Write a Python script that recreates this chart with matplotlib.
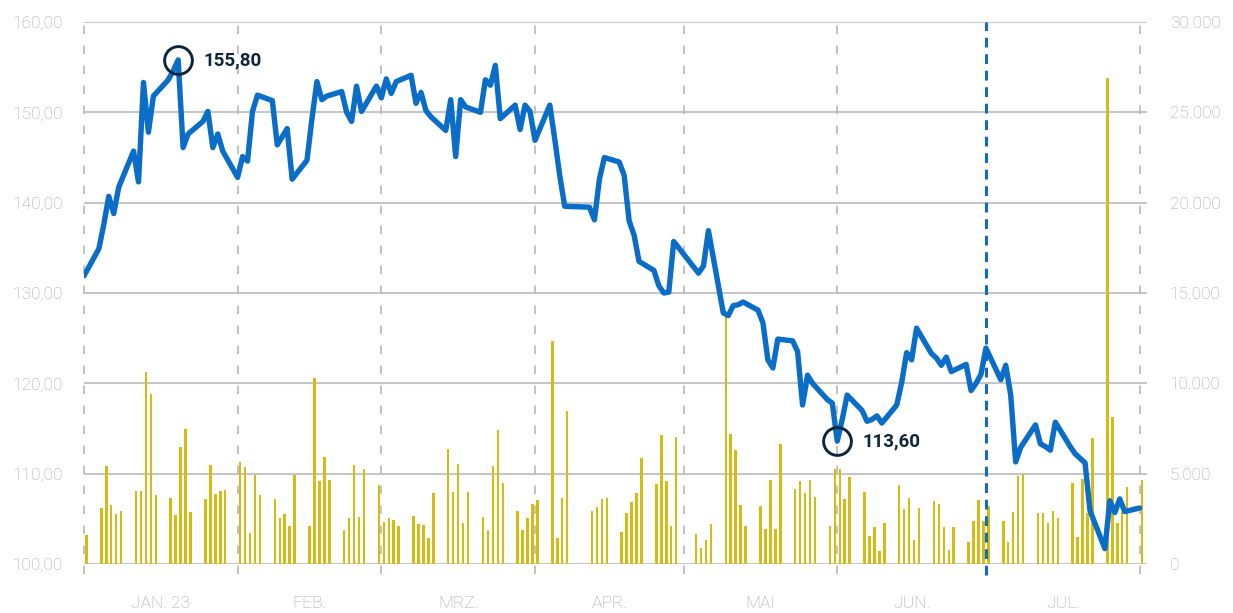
import matplotlib
matplotlib.use("Agg")
import matplotlib.pyplot as plt
import matplotlib.ticker as mticker
import pandas as pd

plt.rcParams["font.family"] = ["Roboto", "DejaVu Sans"]

# trading days (Xetra), Dec 30 2022 - Jul 31 2023
holidays = ["2023-04-07", "2023-04-10", "2023-05-01"]
days = pd.bdate_range("2022-12-30", "2023-07-31").drop(pd.to_datetime(holidays))

# closing price (EUR), one row per week
price = [
    131.9,
    134.9, 137.6, 140.7, 138.8, 141.7,
    145.7, 142.3, 153.3, 147.8, 151.8,
    153.6, 154.6, 155.8, 146.1, 147.6,
    149.0, 150.1, 146.1, 147.6, 145.7,
    142.8, 145.1, 144.6, 150.1, 151.9,
    151.3, 146.4, 147.3, 148.2, 142.6,
    144.7, 149.3, 153.4, 151.4, 151.8,
    152.3, 150.0, 149.0, 152.9, 150.1,
    152.9, 151.6, 153.7, 152.1, 153.4,
    154.1, 151.0, 152.2, 150.2, 149.5,
    148.0, 151.4, 145.1, 151.4, 150.6,
    150.0, 153.6, 153.0, 155.2, 149.3,
    150.8, 148.1, 150.8, 150.1, 146.9,
    150.8, 147.0, 143.0, 139.6,
    139.5, 138.1, 142.6, 145.0,
    144.5, 143.0, 138.0, 136.4, 133.5,
    132.5, 130.8, 130.0, 130.1, 135.7,
    132.9, 132.2, 133.0, 136.9,
    127.8, 127.5, 128.6, 128.7, 129.0,
    128.1, 126.7, 122.6, 121.7, 124.9,
    124.7, 123.5, 117.6, 120.9, 120.0,
    118.2, 117.8, 113.6, 116.0, 118.7,
    117.0, 115.8, 116.0, 116.4, 115.6,
    117.6, 120.1, 123.4, 122.6, 126.1,
    123.3, 122.8, 122.0, 122.9, 121.3,
    122.1, 119.2, 120.0, 121.0, 123.9,
    120.4, 122.0, 118.7, 111.3, 112.9,
    115.4, 113.3, 113.0, 112.6, 115.7,
    113.0, 112.2, 111.7, 111.2, 105.9,
    101.7, 107.0, 105.7, 107.2, 105.8,
    106.2,
]

# traded volume (shares), one row per week
volume = [
    1580,
    3090, 5400, 3280, 2770, 2920,
    4060, 4020, 10600, 9400, 3840,
    3650, 2700, 6460, 7490, 2880,
    3600, 5470, 3870, 4040, 4080,
    5620, 5380, 1740, 4930, 3830,
    3590, 2530, 2760, 2110, 4950,
    2100, 10280, 4590, 5910, 4670,
    1860, 2560, 5480, 2620, 5280,
    4380, 2350, 2540, 2430, 2090,
    2660, 2240, 2180, 1420, 3940,
    6360, 3980, 5540, 2280, 3980,
    2590, 1900, 5410, 7390, 4490,
    2950, 1880, 2550, 3310, 3560,
    12340, 1450, 3660, 8450,
    2950, 3170, 3600, 3680,
    1750, 2850, 3450, 3930, 5890,
    4420, 7160, 4570, 2120, 7030,
    1640, 870, 1310, 2220,
    13800, 7200, 6330, 3290, 2090,
    3200, 1940, 4670, 1960, 6650,
    4130, 4620, 3920, 4670, 3720,
    2110, 5240, 5280, 3600, 4800,
    4000, 1560, 2060, 730, 2260,
    4380, 3050, 3680, 1320, 3090,
    3500, 3340, 2050, 800, 2050,
    1230, 2380, 3540, 2380, 3200,
    2360, 1210, 2860, 4850, 4970,
    2800, 2800, 2270, 2960, 2520,
    4480, 1510, 4700, 2820, 6960,
    26900, 8120, 2250, 2900, 4260,
    4660,
]

month_edges = pd.to_datetime(["2022-12-30", "2023-01-30", "2023-02-28", "2023-03-31",
                              "2023-04-30", "2023-05-31", "2023-06-30", "2023-07-31"])
month_labels = ["JAN. 23", "FEB.", "MRZ.", "APR.", "MAI", "JUN.", "JUL."]
cut_date = pd.Timestamp("2023-06-30")
marked_dates = pd.to_datetime(["2023-01-18", "2023-05-31"])

s_price = pd.Series(price, index=days)
s_vol = pd.Series(volume, index=days)

blue = "#0a6dc8"
bar_col = "#d3bd14"
navy = "#0c2538"
grid_col = "#c6c6c6"
label_col = "#a4a4a4"

fig = plt.figure(figsize=(12.33, 6.13), dpi=100)
ax_vol = fig.add_axes([84 / 1233, 49 / 613, 1063 / 1233, 542 / 613])
ax = ax_vol.twinx()

# volume bars (right axis)
ax_vol.bar(s_vol.index + pd.Timedelta(hours=12), s_vol.values, width=0.5,
           color=bar_col, zorder=2)
ax_vol.set_ylim(0, 30000)
ax_vol.set_yticks(range(0, 30001, 5000))
ax_vol.yaxis.set_major_formatter(
    mticker.FuncFormatter(lambda v, p: f"{int(v):,}".replace(",", ".")))
ax_vol.yaxis.tick_right()
ax_vol.yaxis.grid(True, color=grid_col, lw=1.5, zorder=0)
ax_vol.set_axisbelow(True)

for d in month_edges:
    if d == cut_date:
        continue
    ax_vol.axvline(d, ymin=-0.018, ymax=1, clip_on=False, color="#b7b7b7",
                   lw=1.2, ls=(0, (5, 7)), zorder=1)

# price line (left axis)
ax.axvline(cut_date, ymin=-0.02, ymax=1, clip_on=False, color="#1569c0",
           lw=2.2, ls=(0, (3.2, 2.2)), zorder=1)
ax.plot(s_price.index, s_price.values, color=blue, lw=3.9,
        solid_joinstyle="round", solid_capstyle="round", zorder=3)
ax.set_ylim(100, 160)
ax.set_yticks(range(100, 161, 10))
ax.yaxis.set_major_formatter(
    mticker.FuncFormatter(lambda v, p: f"{v:.2f}".replace(".", ",")))
ax.yaxis.tick_left()

for d in marked_dates:
    v = s_price[d]
    ax.plot(d, v, marker="o", ms=20, mfc="none", mec=navy, mew=2.1, zorder=4)
    ax.annotate(f"{v:.2f}".replace(".", ","), (d, v), xytext=(18.5, 0),
                textcoords="offset points", va="center", ha="left",
                fontsize=13.5, fontweight="bold", color=navy, zorder=5)

xmin = month_edges[0]
xmax = month_edges[-1] + pd.Timedelta(hours=36)
for a in (ax, ax_vol):
    a.set_xlim(xmin, xmax)
    for sp in a.spines.values():
        sp.set_visible(False)
    a.tick_params(axis="both", length=0, labelsize=12.5, labelcolor=label_col)
    a.set_xticks([])
ax.tick_params(axis="y", pad=15.5)
ax_vol.tick_params(axis="y", pad=16.5)
for lab in ax.get_yticklabels() + ax_vol.get_yticklabels():
    lab.set_fontweight("light")

# month labels centred between month lines
trans = ax.get_xaxis_transform()
for left, right, name in zip(month_edges[:-1], month_edges[1:], month_labels):
    mid = left + (right - left) / 2
    ax.text(mid, -0.072, name, transform=trans, ha="center", va="center",
            fontsize=12.5, fontweight="light", color=label_col)

fig.savefig("out.png", dpi=100, facecolor="white")
